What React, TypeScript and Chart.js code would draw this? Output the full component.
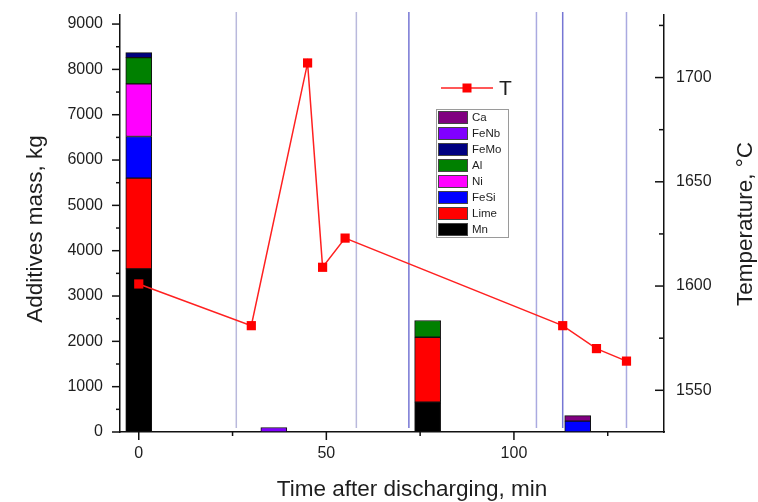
import { useEffect, useRef } from 'react';
import { Chart, registerables } from 'chart.js';

Chart.register(...registerables);

// ---- data ----
const barTimes = [0, 36, 77, 117];
const additiveNames = ['Mn', 'Lime', 'FeSi', 'Ni', 'Al', 'FeMo', 'FeNb', 'Ca'];
const mn = [3600, 0, 660, 0];
const lime = [2000, 0, 1430, 0];
const feSi = [920, 0, 0, 240];
const ni = [1160, 0, 0, 0];
const al = [580, 0, 370, 0];
const feMo = [110, 0, 0, 0];
const feNb = [0, 100, 0, 0];
const ca = [0, 0, 0, 120];

const tempTimes = [0, 30, 45, 49, 55, 113, 122, 130];
const tempValues = [1601, 1581, 1707, 1609, 1623, 1581, 1570, 1564];

const eventTimes = [26, 58, 72, 106, 113, 130];

const xTickValues = [0, 50, 100];
const massTickValues = [0, 1000, 2000, 3000, 4000, 5000, 6000, 7000, 8000, 9000];
const tempTickValues = [1550, 1600, 1650, 1700];
const xAxisTitle = 'Time after discharging, min';
const massAxisTitle = 'Additives mass, kg';
const tempAxisTitle = 'Temperature, °C';

// ---- styles ----
const additiveSeries = [mn, lime, feSi, ni, al, feMo, feNb, ca];
const additiveColors = ['#000000', '#ff0000', '#0000ff', '#ff00ff', '#008000', '#000080', '#8000ff', '#800080'];
const eventColors = ['#b9b9dc', '#b9b9dc', '#7676d4', '#aaaae0', '#7676d4', '#aaaae0'];
const FONT = "'Liberation Sans', Arial, sans-serif";
const TEXT = '#1e1e1e';
const TITLE_FONT = `22.5px ${FONT}`;

const eventLinesPlugin = {
  id: 'eventLines',
  beforeDatasetsDraw(chart: any) {
    const { ctx, chartArea, scales } = chart;
    ctx.save();
    ctx.lineWidth = 1.5;
    eventTimes.forEach((t, i) => {
      const x = scales.x.getPixelForValue(t);
      ctx.strokeStyle = eventColors[i];
      ctx.beginPath();
      ctx.moveTo(x, chartArea.top - 3);
      ctx.lineTo(x, chartArea.bottom - 4);
      ctx.stroke();
    });
    ctx.restore();
  },
};

const ticksPlugin = {
  id: 'tickMarks',
  afterDraw(chart: any) {
    const { ctx, scales } = chart;
    ctx.save();
    ctx.strokeStyle = '#111';
    ctx.lineWidth = 1.5;
    const conf: any = {
      x: { major: 8, minor: 4 },
      y: { major: 8, minor: 4 },
      y2: { major: 9, minor: 5 },
    };
    Object.keys(conf).forEach((id) => {
      const s = scales[id];
      const c = conf[id];
      const vals = s.ticks.map((t: any) => t.value);
      const step = vals[1] - vals[0];
      const marks: [number, number][] = vals.map((v: number) => [v, c.major]);
      for (let v = vals[0] - step / 2; v <= s.max; v += step) {
        if (v >= s.min) marks.push([v, c.minor]);
      }
      marks.forEach(([v, len]) => {
        const p = s.getPixelForValue(v);
        ctx.beginPath();
        if (id === 'x') {
          ctx.moveTo(p, s.top);
          ctx.lineTo(p, s.top + len);
        } else if (id === 'y') {
          ctx.moveTo(s.right, p);
          ctx.lineTo(s.right - len, p);
        } else {
          ctx.moveTo(s.left, p);
          ctx.lineTo(s.left - len, p);
        }
        ctx.stroke();
      });
    });
    ctx.restore();

    // axis titles
    ctx.save();
    ctx.fillStyle = TEXT;
    ctx.font = TITLE_FONT;
    ctx.textAlign = 'center';
    ctx.textBaseline = 'middle';
    ctx.fillText(xAxisTitle, 412, 490);
    ctx.restore();

    const vTitle = (text: string, x: number, y: number) => {
      ctx.save();
      ctx.translate(x, y);
      ctx.rotate(-Math.PI / 2);
      ctx.fillStyle = TEXT;
      ctx.font = TITLE_FONT;
      ctx.textAlign = 'center';
      ctx.textBaseline = 'middle';
      ctx.fillText(text, 0, 0);
      ctx.restore();
    };
    vTitle(massAxisTitle, 36, 229);
    vTitle(tempAxisTitle, 746, 224);
  },
};

const legendPlugin = {
  id: 'customLegend',
  afterDraw(chart: any) {
    const { ctx } = chart;
    const ds = chart.data.datasets;
    ctx.save();
    const line = ds[0];
    const ly = 88;
    ctx.strokeStyle = line.borderColor;
    ctx.lineWidth = 1.5;
    ctx.beginPath();
    ctx.moveTo(441, ly);
    ctx.lineTo(493, ly);
    ctx.stroke();
    ctx.fillStyle = line.backgroundColor;
    ctx.fillRect(467 - 4.5, ly - 4.5, 9, 9);
    ctx.fillStyle = TEXT;
    ctx.font = `21px ${FONT}`;
    ctx.textBaseline = 'middle';
    ctx.textAlign = 'left';
    ctx.fillText(line.label, 499, ly + 1);

    const bars = ds.slice(1).slice().reverse();
    const bx = 436, by = 109, bw = 72, rowH = 16;
    ctx.fillStyle = '#ffffff';
    ctx.fillRect(bx, by, bw, rowH * bars.length);
    ctx.strokeStyle = '#9a9a9a';
    ctx.lineWidth = 1;
    ctx.strokeRect(bx + 0.5, by + 0.5, bw, rowH * bars.length);
    ctx.font = `11.5px ${FONT}`;
    bars.forEach((d: any, i: number) => {
      const y = by + 2 + i * rowH;
      ctx.fillStyle = d.backgroundColor;
      ctx.fillRect(bx + 2, y, 30, 13);
      ctx.strokeStyle = '#444';
      ctx.strokeRect(bx + 2.5, y + 0.5, 29, 12);
      ctx.fillStyle = TEXT;
      ctx.fillText(d.label, bx + 36, y + 7);
    });
    ctx.restore();
  },
};

const plainLabel = (v: any) => String(v);

export default function App() {
  const ref = useRef<HTMLCanvasElement>(null);

  useEffect(() => {
    if (!ref.current) return;
    const barDatasets = additiveNames.map((name, k) => ({
      type: 'bar' as const,
      label: name,
      data: barTimes
        .map((t, i) => ({ x: t, y: additiveSeries[k][i] }))
        .filter((d) => d.y > 0),
      backgroundColor: additiveColors[k],
      borderColor: '#111',
      borderWidth: 1,
      borderSkipped: false as const,
      barThickness: 26,
      yAxisID: 'y',
      order: 1,
    }));
    const tempDataset = {
      type: 'line' as const,
      label: 'T',
      data: tempTimes.map((t, i) => ({ x: t, y: tempValues[i] })),
      borderColor: '#ff2020',
      backgroundColor: '#ff0000',
      borderWidth: 1.5,
      pointStyle: 'rect' as const,
      pointRadius: 6.5,
      pointBorderWidth: 0,
      yAxisID: 'y2',
      order: 0,
    };
    const zeroPad = (s: any) => {
      s.paddingTop = 0;
      s.paddingBottom = 0;
      s.paddingLeft = 0;
      s.paddingRight = 0;
    };
    const chart = new Chart(ref.current, {
      type: 'bar',
      data: { datasets: [tempDataset as any, ...barDatasets] },
      plugins: [eventLinesPlugin, ticksPlugin, legendPlugin],
      options: {
        animation: false,
        responsive: false,
        devicePixelRatio: 1,
        layout: { padding: { left: 0, right: 0, top: 15, bottom: 0 } },
        plugins: { legend: { display: false }, tooltip: { enabled: false } },
        scales: {
          x: {
            type: 'linear',
            min: -5,
            max: 140,
            offset: false,
            stacked: true,
            afterFit: (s: any) => { s.height = 70; zeroPad(s); },
            afterBuildTicks: (s: any) => { s.ticks = xTickValues.map((v) => ({ value: v })); },
            grid: { display: false, drawTicks: false, offset: false },
            border: { display: true, color: '#111', width: 1.5 },
            ticks: { padding: 12, color: TEXT, font: { family: FONT, size: 16 }, maxRotation: 0, callback: plainLabel },
            title: { display: false },
          },
          y: {
            type: 'linear',
            position: 'left',
            min: 0,
            max: 9200,
            stacked: true,
            afterFit: (s: any) => { s.width = 120; zeroPad(s); },
            afterBuildTicks: (s: any) => { s.ticks = massTickValues.map((v) => ({ value: v })); },
            grid: { display: false, drawTicks: false },
            border: { display: true, color: '#111', width: 1.5 },
            ticks: { padding: 17, color: TEXT, font: { family: FONT, size: 16 }, callback: plainLabel },
            title: { display: false },
          },
          y2: {
            type: 'linear',
            position: 'right',
            min: 1530,
            max: 1730,
            afterFit: (s: any) => { s.width = 94; zeroPad(s); },
            afterBuildTicks: (s: any) => { s.ticks = tempTickValues.map((v) => ({ value: v })); },
            grid: { display: false, drawTicks: false },
            border: { display: true, color: '#111', width: 1.5 },
            ticks: { padding: 12, color: TEXT, font: { family: FONT, size: 16 }, callback: plainLabel },
            title: { display: false },
          },
        },
      } as any,
    });
    return () => chart.destroy();
  }, []);

  return (
    <div style={{ position: 'fixed', left: 0, top: 0, width: 758, height: 502, background: '#fff' }}>
      <canvas ref={ref} width={758} height={502} />
    </div>
  );
}
